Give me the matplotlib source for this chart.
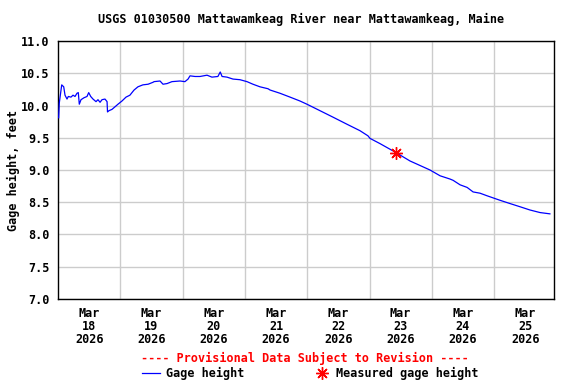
import matplotlib
matplotlib.use("Agg")
import matplotlib.pyplot as plt
import matplotlib.dates as mdates
import numpy as np
import pandas as pd

title = "USGS 01030500 Mattawamkeag River near Mattawamkeag, Maine"
start = pd.Timestamp("2026-03-18 00:00")

# hours since Mar 18 00:00 and gage height (ft)
hours = [0.25, 0.5, 1.43, 2.2, 2.7, 3.47, 3.97, 5.0, 5.78, 6.55, 7.32, 7.82, 8.2, 8.86,
         10.0, 11.17, 11.83, 12.6, 13.48, 14.64, 15.4, 16.2, 16.95, 18.1, 18.9, 19.07,
         19.65, 20.8, 21.96, 23.1, 24.65, 26.2, 27.7, 29.3, 30.8, 32.7, 34.7, 36.6, 37.0,
         39.3, 40.45, 42.0, 43.9, 47.0, 48.9, 50.1, 50.85, 52.8, 54.7, 57.4, 59.3, 61.6,
         62.5, 63.2, 65.1, 67.4, 70.1, 72.8, 75.1, 77.8, 80.9, 81.7, 85.5, 89.4, 93.2,
         95.9, 100.9, 105.9, 111.3, 116.3, 119.4, 120.2, 124.0, 130.2, 135.6, 143.3,
         147.2, 151.0, 152.2, 154.9, 157.6, 159.9, 162.6, 165.3, 170.3, 174.1, 178.0,
         181.8, 185.7, 189.5]
gage = [9.81, 10.04, 10.32, 10.29, 10.16, 10.10, 10.14, 10.13, 10.16, 10.14, 10.19, 10.20,
        10.02, 10.09, 10.12, 10.14, 10.20, 10.14, 10.10, 10.06, 10.09, 10.05, 10.09, 10.10,
        10.06, 9.90, 9.92, 9.94, 9.98, 10.02, 10.07, 10.13, 10.16, 10.24, 10.29, 10.32,
        10.33, 10.36, 10.37, 10.38, 10.33, 10.34, 10.37, 10.38, 10.37, 10.41, 10.46, 10.45,
        10.45, 10.47, 10.44, 10.45, 10.52, 10.45, 10.44, 10.41, 10.40, 10.37, 10.33, 10.29,
        10.26, 10.24, 10.19, 10.13, 10.07, 10.02, 9.92, 9.82, 9.71, 9.61, 9.53, 9.49, 9.41,
        9.27, 9.14, 9.00, 8.91, 8.86, 8.84, 8.77, 8.73, 8.66, 8.64, 8.60, 8.53, 8.48, 8.43,
        8.38, 8.34, 8.32]

meas_hours = [130.2]
meas_gage = [9.27]

yticks = [7.0, 7.5, 8.0, 8.5, 9.0, 9.5, 10.0, 10.5, 11.0]
day_labels = ["18", "19", "20", "21", "22", "23", "24", "25"]

times = start + pd.to_timedelta(hours, unit="h")
mtimes = start + pd.to_timedelta(meas_hours, unit="h")

font = "DejaVu Sans Mono"
fs = 8.5

fig = plt.figure(figsize=(5.76, 3.84), dpi=100)
ax = fig.add_axes([0.1007, 0.2214, 0.9623 - 0.1007, 0.8932 - 0.2214])

ax.plot(times, gage, color="#0000ff", lw=0.9, zorder=3)
ax.plot(mtimes, meas_gage, linestyle="none", marker=(8, 2, 0), markersize=9,
        markeredgewidth=1.0, color="#ff0000", zorder=4)

ax.set_ylim(7.0, 11.0)
ax.set_yticks(yticks)
ax.set_yticklabels([f"{v:.1f}" for v in yticks], fontfamily=font, fontweight="bold", fontsize=fs)

xmin = mdates.date2num(start)
xmax = xmin + 7.966
ax.set_xlim(xmin, xmax)
major = [xmin + i + 0.5 for i in range(len(day_labels))]
minor = [xmin + i for i in range(1, 8)]
ax.set_xticks(major)
ax.set_xticklabels([f"Mar\n{d}\n2026" for d in day_labels], fontfamily=font,
                   fontweight="bold", fontsize=fs, linespacing=1.0)
ax.set_xticks(minor, minor=True)
ax.tick_params(axis="both", which="both", length=0)
ax.tick_params(axis="x", pad=6)
ax.tick_params(axis="y", pad=6)

ax.grid(False, which="major", axis="x")
ax.grid(True, which="minor", axis="x", color="#cccccc", lw=1.0)
ax.grid(True, which="major", axis="y", color="#cccccc", lw=1.0)
ax.set_axisbelow(True)
for s in ax.spines.values():
    s.set_color("black")
    s.set_linewidth(1.0)

ax.set_ylabel("Gage height, feet", fontfamily=font, fontweight="bold", fontsize=fs, labelpad=1)

fig.text(301 / 576, 1 - 19 / 384, title, ha="center", va="center", fontfamily=font,
         fontweight="bold", fontsize=fs)
fig.text(305 / 576, 1 - 358 / 384, "---- Provisional Data Subject to Revision ----",
         ha="center", va="center", color="#ff0000", fontfamily=font, fontweight="bold", fontsize=fs)

# legend
fig.add_artist(plt.Line2D([142 / 576, 160 / 576], [1 - 373 / 384] * 2, color="#0000ff", lw=0.9))
fig.text(166 / 576, 1 - 373 / 384, "Gage height", ha="left", va="center", fontfamily=font,
         fontweight="bold", fontsize=fs)
fig.add_artist(plt.Line2D([322 / 576], [1 - 373 / 384], linestyle="none", marker=(8, 2, 0),
                          markersize=9, markeredgewidth=1.0, color="#ff0000"))
fig.text(336 / 576, 1 - 373 / 384, "Measured gage height", ha="left", va="center",
         fontfamily=font, fontweight="bold", fontsize=fs)

fig.savefig("out.png", dpi=100)
